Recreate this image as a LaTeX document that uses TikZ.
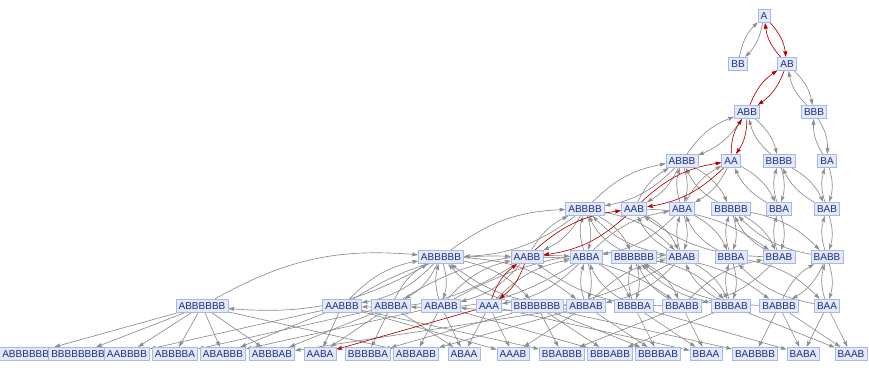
\documentclass[tikz,border=0pt]{standalone}
\usepackage{fontspec}
\setmainfont{Liberation Sans}
\usetikzlibrary{arrows.meta}
\definecolor{nfill}{HTML}{E3E9F8}
\definecolor{ndraw}{HTML}{A5B8E6}
\definecolor{ntext}{HTML}{1A2E80}
\definecolor{egray}{HTML}{8C8C8C}
\definecolor{ered}{HTML}{B20000}
\pgfdeclarelayer{bg}
\pgfsetlayers{bg,main}
\tikzset{
  st/.style={draw=ndraw, fill=nfill, text=ntext, font=\fontsize{10}{10}\selectfont,
    inner xsep=2.6pt, inner ysep=0pt, minimum height=13.5pt, line width=0.6pt},
  ed/.style={draw=egray, line width=0.65pt, -{Stealth[length=6pt,width=4pt,inset=0.8pt]}},
  rd/.style={ed, draw=ered},
}
\begin{document}
\begin{tikzpicture}[x=1pt,y=-1pt]
\useasboundingbox (0,0) rectangle (869,372);
% row 0
\node[st] (A) at (764,16) {A};
% row 1
\node[st] (BB) at (738,64) {BB};
\node[st] (AB) at (787,64) {AB};
% row 2
\node[st] (ABB) at (747,112) {ABB};
\node[st] (BBB) at (814,112) {BBB};
% row 3
\node[st] (ABBB) at (682,161) {ABBB};
\node[st] (AA) at (731,161) {AA};
\node[st] (BBBB) at (779,161) {BBBB};
\node[st] (BA) at (827,161) {BA};
% row 4
\node[st] (ABBBB) at (585,209) {ABBBB};
\node[st] (AAB) at (634,209) {AAB};
\node[st] (ABA) at (682,209) {ABA};
\node[st] (BBBBB) at (731,209) {BBBBB};
\node[st] (BBA) at (779,209) {BBA};
\node[st] (BAB) at (827,209) {BAB};
% row 5
\node[st] (ABBBBB) at (441,257) {ABBBBB};
\node[st] (AABB) at (527,257) {AABB};
\node[st] (ABBA) at (586,257) {ABBA};
\node[st] (BBBBBB) at (634,257) {BBBBBB};
\node[st] (ABAB) at (682,257) {ABAB};
\node[st] (BBBA) at (731,257) {BBBA};
\node[st] (BBAB) at (779,257) {BBAB};
\node[st] (BABB) at (827,257) {BABB};
% row 6
\node[st] (ABBBBBB) at (202,306) {ABBBBBB};
\node[st] (AABBB) at (342,306) {AABBB};
\node[st] (ABBBA) at (391,306) {ABBBA};
\node[st] (ABABB) at (441,306) {ABABB};
\node[st] (AAA) at (489,306) {AAA};
\node[st] (BBBBBBB) at (537,306) {BBBBBBB};
\node[st] (ABBAB) at (586,306) {ABBAB};
\node[st] (BBBBA) at (634,306) {BBBBA};
\node[st] (BBABB) at (682,306) {BBABB};
\node[st] (BBBAB) at (731,306) {BBBAB};
\node[st] (BABBB) at (779,306) {BABBB};
\node[st] (BAA) at (827,306) {BAA};
% row 7
\node[st] (ABBBBBBB) at (29,354) {ABBBBBBB};
\node[st] (BBBBBBBB) at (78,354) {BBBBBBBB};
\node[st] (AABBBB) at (127,354) {AABBBB};
\node[st] (ABBBBA) at (175,354) {ABBBBA};
\node[st] (ABABBB) at (223,354) {ABABBB};
\node[st] (ABBBAB) at (272,354) {ABBBAB};
\node[st] (AABA) at (320,354) {AABA};
\node[st] (BBBBBA) at (368,354) {BBBBBA};
\node[st] (ABBABB) at (416,354) {ABBABB};
\node[st] (ABAA) at (464,354) {ABAA};
\node[st] (AAAB) at (513,354) {AAAB};
\node[st] (BBABBB) at (562,354) {BBABBB};
\node[st] (BBBABB) at (610,354) {BBBABB};
\node[st] (BBBBAB) at (658,354) {BBBBAB};
\node[st] (BBAA) at (706,354) {BBAA};
\node[st] (BABBBB) at (755,354) {BABBBB};
\node[st] (BABA) at (803,354) {BABA};
\node[st] (BAAB) at (851,354) {BAAB};

\begin{pgfonlayer}{bg}
% two-way pairs (gray)
\foreach \u/\v in {A/BB, AB/BBB, ABB/ABBB, ABB/BBBB, BBB/BA,
  ABBB/ABBBB, ABBB/BBBBB, ABBB/AAB, ABBB/ABA, AA/ABA, AA/BBA,
  BBBB/BAB, BBBB/BBA, BA/BAB,
  ABBBB/ABBBBB, ABBBB/BBBBBB, ABBBB/AABB, ABBBB/ABAB, ABBBB/ABBA,
  AAB/ABAB, AAB/BBAB, ABA/ABBA, ABA/ABAB, ABA/BBBA,
  BBBBB/BABB, BBBBB/BBAB, BBBBB/BBBA, BBA/BBAB, BAB/BABB,
  ABBBBB/ABBBBBB, ABBBBB/BBBBBBB, ABBBBB/AABBB, ABBBBB/ABABB, ABBBBB/ABBAB, ABBBBB/ABBBA,
  AABB/ABABB, AABB/AABBB, AABB/BBABB,
  ABBA/ABBBA, ABBA/ABBAB, ABBA/BBBBA, ABBA/AAA,
  BBBBBB/BABBB, BBBBBB/BBABB, BBBBBB/BBBAB, BBBBBB/BBBBA,
  ABAB/ABBAB, ABAB/ABABB, ABAB/BBBAB,
  BBBA/BAA, BBBA/BBBAB, BBAB/BBABB, BABB/BABBB, BABB/BAA}
{
  \draw[ed] (\u) to[bend left=17] (\v);
  \draw[ed] (\v) to[bend left=17] (\u);
}
% one-way edges into the last row
\foreach \u/\v in {ABBBBBB/ABBBBBBB, ABBBBBB/BBBBBBBB, ABBBBBB/AABBBB, ABBBBBB/ABABBB,
  ABBBBBB/ABBABB, ABBBBBB/ABBBAB, ABBBBBB/ABBBBA,
  AABBB/ABABBB, AABBB/AABBBB, AABBB/BBABBB, AABBB/AAAB, AABBB/AABA,
  ABBBA/ABBBBA, ABBBA/ABBBAB, ABBBA/BBBBBA, ABBBA/AABA, ABBBA/ABAA,
  ABABB/ABBABB, ABABB/ABABBB, ABABB/BBBABB, ABABB/ABAA,
  AAA/ABAA, AAA/AAAB, AAA/BBAA,
  BBBBBBB/BABBBB, BBBBBBB/BBABBB, BBBBBBB/BBBABB, BBBBBBB/BBBBAB, BBBBBBB/BBBBBA,
  ABBAB/ABBBAB, ABBAB/ABBABB, ABBAB/BBBBAB, ABBAB/AAAB,
  BBBBA/BABA, BBBBA/BBAA, BBBBA/BBBBAB,
  BBABB/BBAA, BBABB/BBABBB, BBBAB/BAAB, BBBAB/BBBABB,
  BABBB/BABBBB, BABBB/BAAB, BABBB/BABA, BAA/BABA, BAA/BAAB}
{
  \draw[ed] (\u) -- (\v);
}
% highlighted path (red)
\foreach \u/\v in {A/AB, AB/ABB, ABB/AA, AA/AAB, AAB/AABB, AABB/AAA}
{
  \draw[rd] (\u) to[bend left=17] (\v);
  \draw[rd] (\v) to[bend left=17] (\u);
}
\draw[rd] (AAA) -- (AABA);
\end{pgfonlayer}
\end{tikzpicture}
\end{document}
